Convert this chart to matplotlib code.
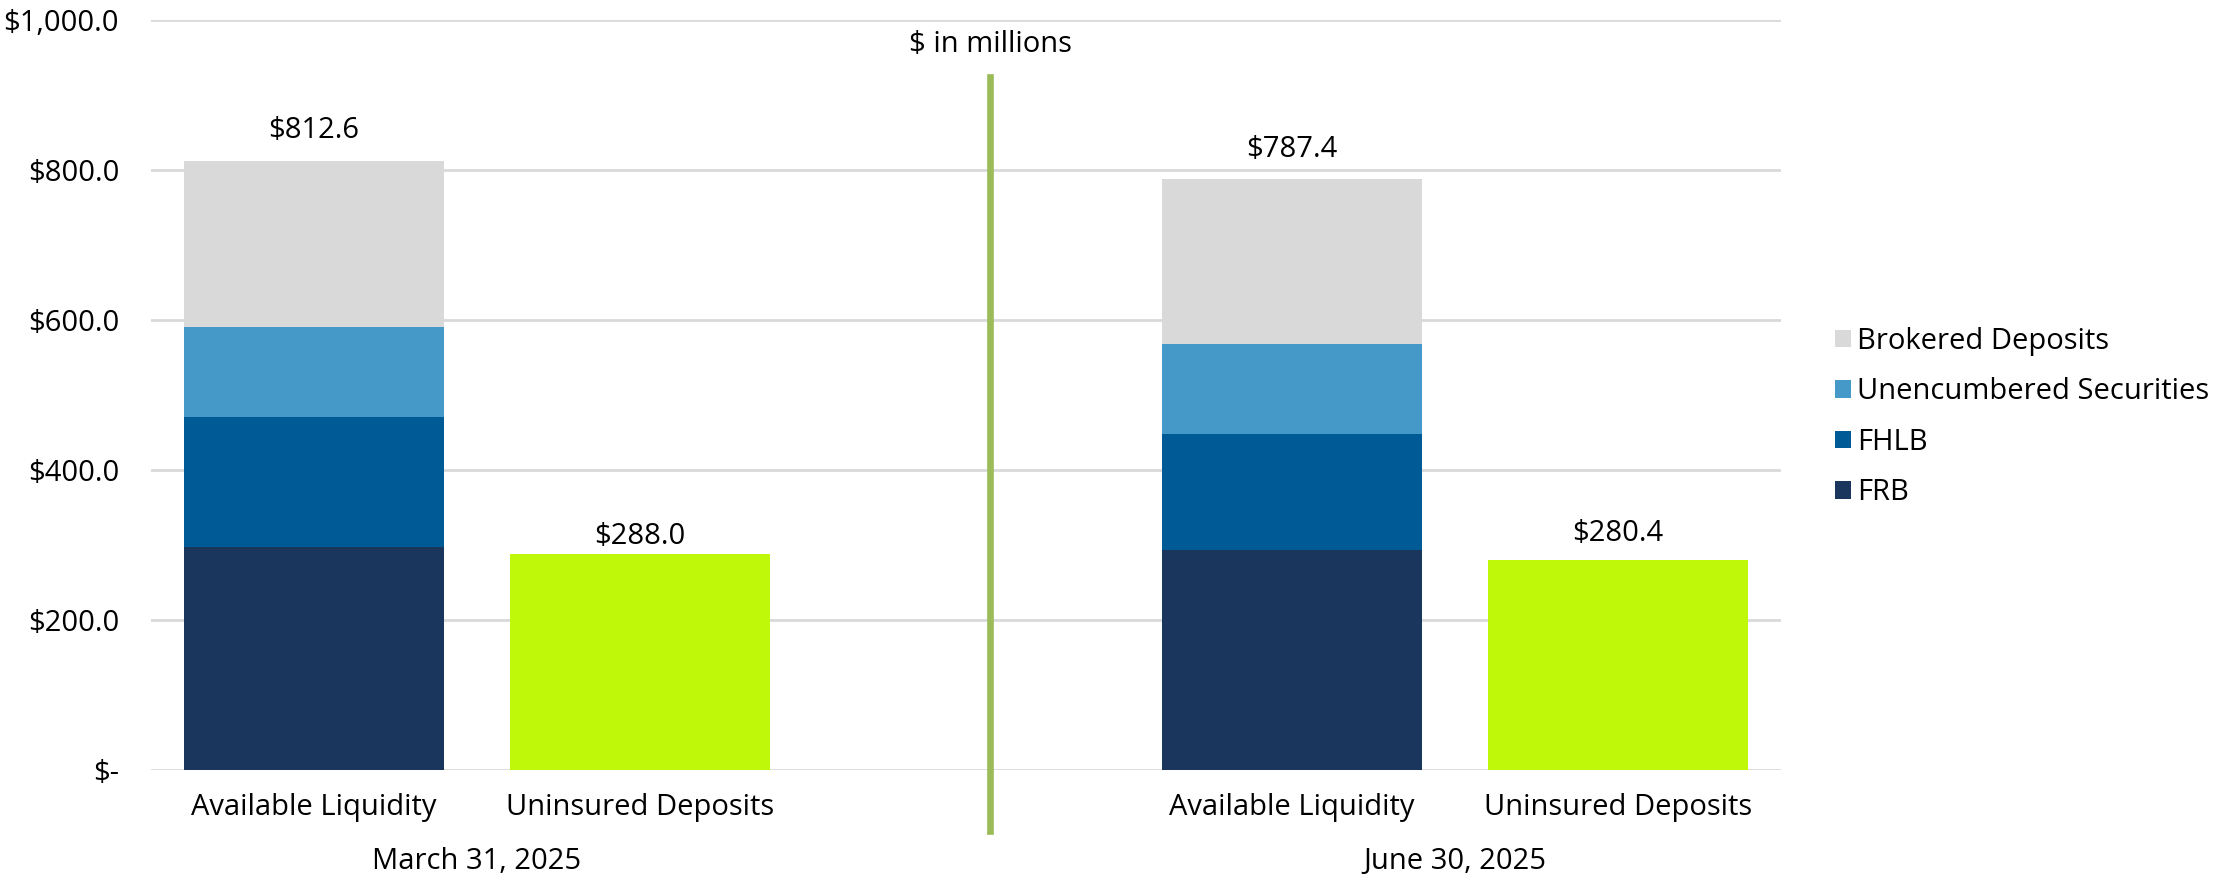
import matplotlib
matplotlib.use("Agg")
import matplotlib.pyplot as plt
from matplotlib.patches import Patch
from matplotlib.lines import Line2D

# ---- data ----
periods = ["March 31, 2025", "June 30, 2025"]
categories = ["Available Liquidity", "Uninsured Deposits"]
series_names = ["FRB", "FHLB", "Unencumbered Securities", "Brokered Deposits"]
frb = [297.0, 293.3]
fhlb = [173.7, 155.1]
unencumbered = [120.0, 120.0]
brokered = [221.9, 219.0]
available_totals = [812.6, 787.4]
uninsured = [288.0, 280.4]
yticks = [0, 200, 400, 600, 800, 1000]
ytick_labels = ["$-", "$200.0", "$400.0", "$600.0", "$800.0", "$1,000.0"]

# ---- style ----
colors = {"FRB": "#1A365D", "FHLB": "#005A96", "Unencumbered Securities": "#4599C8",
          "Brokered Deposits": "#D9D9D9"}
green = "#BFF808"
divider_color = "#9BBB59"
grid_color = "#D9D9D9"
FONT = ["Open Sans", "DejaVu Sans"]
plt.rcParams["font.family"] = FONT
fs = 21

W, H = 2216, 880
fig = plt.figure(figsize=(W / 100, H / 100), dpi=100)
ax = fig.add_axes([151 / W, 1 - 770 / H, (1781 - 151) / W, (770 - 20) / H])

group_pos = [0, 3]
width = 0.8
series_vals = [frb, fhlb, unencumbered, brokered]
for gi, gx in enumerate(group_pos):
    bottom = 0
    for name, vals in zip(series_names, series_vals):
        ax.bar(gx, vals[gi], width, bottom=bottom, color=colors[name], zorder=3,
               linewidth=0)
        bottom += vals[gi]
    ax.bar(gx + 1, uninsured[gi], width, color=green, zorder=3, linewidth=0)

# data labels
label_offsets = [[30, 17], [30, 26]]  # pixels above bar top
for gi, gx in enumerate(group_pos):
    for j, (x, v) in enumerate([(gx, available_totals[gi]), (gx + 1, uninsured[gi])]):
        ax.annotate(f"${v:,.1f}", (x, v), xytext=(0, label_offsets[gi][j]),
                    textcoords="offset pixels", ha="center", va="center",
                    fontsize=fs, color="#000000")

ax.set_xlim(-0.5, 4.5)
ax.set_ylim(0, 1000)
ax.set_yticks(yticks)
ax.set_yticklabels(ytick_labels, fontsize=fs, color="#000000")
ax.tick_params(axis="y", length=0, pad=23)
ax.set_xticks([])
for s in ax.spines.values():
    s.set_visible(False)
ax.yaxis.grid(True, color=grid_color, linewidth=2, zorder=0)
ax.set_axisbelow(True)

# category labels under bars
for gi, gx in enumerate(group_pos):
    for k, cat in enumerate(categories):
        ax.annotate(cat, (gx + k, 0), xytext=(0, -37), textcoords="offset pixels",
                    ha="center", va="center", fontsize=fs, color="#000000",
                    annotation_clip=False)
    ax.annotate(periods[gi], (gx + 0.5, 0), xytext=(0, -91),
                textcoords="offset pixels", ha="center", va="center", fontsize=fs,
                color="#000000", annotation_clip=False)

# divider and unit note
fig.add_artist(Line2D([990 / W, 990 / W], [1 - 77 / H, 1 - 831 / H], color=divider_color,
                      linewidth=4.8, transform=fig.transFigure))
fig.text(990 / W, 1 - 45 / H, "$ in millions", ha="center", va="center", fontsize=fs,
         color="#000000")

# legend
handles = [Patch(facecolor=colors[n], edgecolor="none") for n in reversed(series_names)]
leg = fig.legend(handles, list(reversed(series_names)), loc="center left",
                 bbox_to_anchor=(1820 / W, 1 - 417 / H), frameon=False, fontsize=fs,
                 handlelength=0.55, handleheight=0.55, handletextpad=0.22,
                 labelspacing=0.74, borderpad=0)

fig.savefig("out.png", dpi=100)
